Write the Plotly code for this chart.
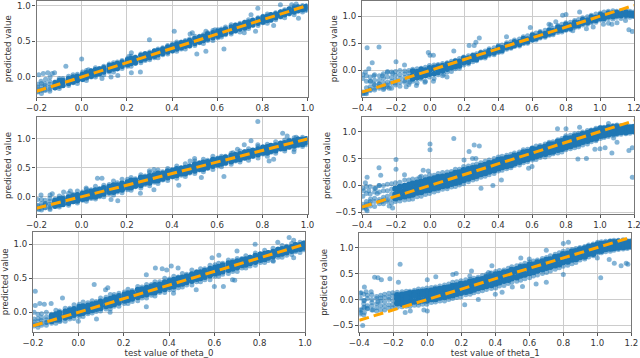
import plotly.graph_objects as go

L_A = [-0.195,-0.162,-0.118,-0.083,-0.038,0.004,0.042,0.079,0.122,0.158,0.203,0.238,0.281,0.322,0.359,0.402,0.441,0.478,0.522,0.558,0.603,0.637,0.681,0.722,0.758,0.803,0.838,0.881,0.919,0.958,0.995]
L_B = [-0.178,-0.141,-0.099,-0.058,-0.019,0.021,0.061,0.098,0.141,0.179,0.219,0.262,0.301,0.338,0.381,0.421,0.459,0.501,0.539,0.581,0.619,0.662,0.701,0.739,0.781,0.822,0.859,0.899,0.941,0.978]
R_A = [-0.395,-0.352,-0.298,-0.251,-0.203,-0.149,-0.102,-0.052,-0.003,0.048,0.101,0.149,0.198,0.252,0.299,0.348,0.402,0.451,0.497,0.549,0.602,0.648,0.701,0.752,0.799,0.851,0.898,0.949,1.002,1.049,1.098,1.152,1.197]
R_B = [-0.374,-0.326,-0.274,-0.226,-0.177,-0.124,-0.076,-0.027,0.024,0.074,0.126,0.173,0.226,0.274,0.324,0.377,0.424,0.476,0.526,0.574,0.624,0.677,0.724,0.776,0.826,0.874,0.926,0.976,1.024,1.076,1.124,1.176]

# panel 1
p1_a_hi = [-0.10,-0.09,-0.07,-0.02,0.03,0.07,0.09,0.12,0.18,0.21,0.26,0.28,0.33,0.37,0.41,0.46,0.49,0.53,0.57,0.62,0.66,0.70,0.73,0.77,0.80,0.85,0.87,0.91,0.95,0.98,0.99]
p1_a_mid = [-0.17,-0.15,-0.11,-0.07,-0.03,0.01,0.05,0.08,0.12,0.16,0.20,0.24,0.28,0.33,0.36,0.40,0.44,0.48,0.52,0.56,0.60,0.64,0.68,0.72,0.76,0.80,0.83,0.87,0.91,0.94,0.97]
p1_a_lo = [-0.21,-0.19,-0.15,-0.12,-0.08,-0.04,0.00,0.03,0.07,0.11,0.15,0.19,0.23,0.27,0.31,0.36,0.39,0.43,0.48,0.51,0.55,0.59,0.64,0.67,0.72,0.76,0.79,0.84,0.88,0.92,0.93]
p1_b_hi = [-0.13,-0.1,-0.05,-0.02,0.01,0.06,0.1,0.13,0.17,0.21,0.26,0.3,0.33,0.37,0.42,0.46,0.49,0.54,0.57,0.62,0.65,0.7,0.73,0.77,0.81,0.85,0.88,0.92,0.96,0.98]
p1_b_lo = [-0.19,-0.17,-0.13,-0.09,-0.05,-0.01,0.03,0.07,0.11,0.15,0.19,0.23,0.27,0.31,0.35,0.39,0.43,0.47,0.51,0.55,0.59,0.63,0.67,0.71,0.75,0.79,0.83,0.87,0.91,0.94]
p1_d_mid = [-0.17,-0.14,-0.1,-0.06,-0.02,0.02,0.06,0.1,0.14,0.18,0.22,0.26,0.3,0.34,0.38,0.42,0.46,0.5,0.54,0.58,0.62,0.66,0.7,0.74,0.78,0.82,0.86,0.89,0.93,0.96]
p1_e_hi = [-0.14,-0.12,-0.08,-0.05,0.0,0.04,0.08,0.11,0.16,0.19,0.24,0.27,0.32,0.36,0.39,0.44,0.48,0.51,0.56,0.6,0.64,0.67,0.72,0.76,0.79,0.84,0.87,0.91,0.95,0.98,0.99]
p1_e_lo = [-0.2,-0.18,-0.15,-0.12,-0.07,-0.03,0.01,0.05,0.09,0.12,0.17,0.2,0.25,0.29,0.33,0.37,0.41,0.44,0.49,0.53,0.57,0.61,0.65,0.69,0.73,0.77,0.8,0.85,0.89,0.93,0.95]
p1_c_hi = [-0.09,-0.06,-0.02,0.01,0.04,0.09,0.13,0.15,0.2,0.23,0.29,0.32,0.35,0.39,0.44,0.49,0.51,0.57,0.59,0.65,0.67,0.73,0.75,0.8,0.83,0.88,0.9,0.94,0.99,1.0]
p1_c_lo = [-0.23,-0.2,-0.16,-0.12,-0.09,-0.05,0.0,0.03,0.07,0.12,0.15,0.2,0.24,0.27,0.32,0.36,0.39,0.44,0.47,0.51,0.56,0.6,0.63,0.68,0.72,0.75,0.8,0.83,0.87,0.91]
p1_out_x = [-0.19,-0.17,-0.15,-0.13,-0.12,-0.18,-0.16,-0.14,-0.07,0.0,0.03,0.21,0.22,0.3,0.41,0.48,0.49,0.63,0.55,0.59,0.75,0.78,0.88,0.93,0.95,0.96,0.26,0.22,0.16,0.13,0.09,0.77,0.85,0.72,0.51,0.55]
p1_out_y = [0.03,0.05,0.06,0.05,0.06,-0.06,-0.03,0.0,0.15,0.25,0.1,0.29,0.34,0.52,0.64,0.6,0.62,0.39,0.64,0.66,0.87,0.96,1.01,1.01,1.02,0.82,0.07,0.06,0.02,0.0,-0.02,0.64,0.72,0.62,0.32,0.36]

# panel 2
p2_a_hi = [-0.08,-0.12,-0.1,-0.04,-0.02,-0.01,0.02,0.04,0.09,0.11,0.14,0.19,0.25,0.29,0.34,0.40,0.46,0.51,0.56,0.62,0.67,0.72,0.76,0.83,0.88,0.92,0.97,1.02,1.06,1.09,1.09,1.12,1.08]
p2_a_mid = [-0.4,-0.3,-0.25,-0.22,-0.17,-0.13,-0.09,-0.05,0.0,0.03,0.08,0.13,0.19,0.24,0.28,0.34,0.40,0.45,0.49,0.55,0.61,0.65,0.71,0.76,0.80,0.86,0.90,0.95,1.0,1.03,1.05,1.05,1.03]
p2_a_lo = [-0.43,-0.37,-0.33,-0.3,-0.27,-0.22,-0.2,-0.16,-0.12,-0.08,-0.03,0.03,0.1,0.16,0.23,0.28,0.33,0.39,0.44,0.49,0.55,0.6,0.65,0.7,0.74,0.79,0.84,0.88,0.93,0.96,0.98,0.99,1.0]
p2_b_hi = [-0.2,-0.18,-0.15,-0.13,-0.08,-0.05,-0.02,0.01,0.06,0.09,0.13,0.17,0.23,0.27,0.32,0.37,0.42,0.48,0.53,0.58,0.63,0.68,0.73,0.79,0.84,0.88,0.93,0.98,1.02,1.06,1.07,1.06]
p2_b_lo = [-0.39,-0.33,-0.29,-0.24,-0.22,-0.17,-0.14,-0.1,-0.06,-0.01,0.05,0.08,0.15,0.2,0.26,0.32,0.37,0.43,0.48,0.53,0.59,0.64,0.69,0.74,0.78,0.83,0.88,0.92,0.96,0.99,1.01,1.02]
p2_d_mid = [-0.32,-0.27,-0.23,-0.2,-0.15,-0.11,-0.08,-0.04,0.02,0.05,0.1,0.15,0.21,0.25,0.3,0.35,0.41,0.46,0.51,0.56,0.62,0.66,0.72,0.77,0.81,0.86,0.91,0.95,1.0,1.03,1.04,1.04]
p2_e_hi = [-0.15,-0.2,-0.18,-0.12,-0.09,-0.06,-0.01,0.02,0.05,0.08,0.12,0.17,0.23,0.27,0.32,0.37,0.43,0.48,0.53,0.59,0.65,0.69,0.74,0.8,0.85,0.89,0.94,0.99,1.03,1.06,1.07,1.08,1.05]
p2_e_lo = [-0.42,-0.35,-0.3,-0.27,-0.23,-0.19,-0.16,-0.12,-0.07,-0.04,0.02,0.07,0.14,0.2,0.25,0.31,0.36,0.42,0.46,0.52,0.57,0.62,0.67,0.73,0.76,0.82,0.87,0.91,0.96,0.99,1.01,1.02,1.01]
p2_c_hi = [-0.1,-0.08,-0.06,-0.03,0.0,0.0,0.03,0.06,0.1,0.13,0.17,0.22,0.27,0.31,0.36,0.42,0.47,0.53,0.58,0.64,0.69,0.74,0.78,0.85,0.89,0.94,0.99,1.04,1.08,1.1,1.1,1.09]
p2_c_lo = [-0.43,-0.36,-0.35,-0.33,-0.29,-0.26,-0.23,-0.2,-0.15,-0.1,-0.02,0.04,0.12,0.18,0.23,0.29,0.34,0.41,0.45,0.5,0.56,0.61,0.66,0.71,0.75,0.8,0.85,0.89,0.93,0.95,0.96,0.98]
p2_out_x = [-0.37,-0.3,-0.34,-0.36,-0.2,-0.15,-0.01,0.0,0.02,0.14,0.23,0.26,0.27,0.29,0.45,0.59,0.7,0.71,0.74,0.88,0.78,0.8,1.05,1.07,1.1,1.15,1.17,1.19,0.92,0.96,1.02,0.84,-0.38,-0.35,-0.33,-0.3,-0.27,-0.24,-0.38,-0.33,-0.28,-0.25,-0.22,-0.14,-0.12,-0.08,-0.03,0.1,0.08,0.02]
p2_out_y = [0.42,0.43,0.14,0.03,0.16,0.1,0.33,0.28,0.28,0.36,0.46,0.46,0.52,0.6,0.62,0.79,0.85,0.84,0.9,1.08,1.02,1.03,0.87,0.85,0.88,0.92,0.75,0.72,0.77,0.8,0.85,0.73,-0.42,-0.2,-0.1,-0.25,-0.33,-0.33,-0.03,-0.25,-0.1,-0.02,-0.05,-0.3,-0.22,-0.28,-0.22,-0.12,-0.07,-0.2]

# panel 3
p3_a_hi = [-0.05,-0.06,-0.04,0.0,0.04,0.08,0.12,0.14,0.21,0.24,0.3,0.31,0.36,0.4,0.43,0.47,0.5,0.54,0.59,0.63,0.67,0.7,0.74,0.78,0.8,0.86,0.88,0.92,0.98,1.0,1.0]
p3_a_mid = [-0.16,-0.14,-0.1,-0.07,-0.03,0.01,0.05,0.09,0.13,0.17,0.21,0.25,0.29,0.33,0.37,0.41,0.44,0.48,0.53,0.56,0.61,0.64,0.68,0.72,0.76,0.8,0.83,0.88,0.91,0.94,0.96]
p3_a_lo = [-0.2,-0.19,-0.15,-0.13,-0.09,-0.06,-0.03,0.0,0.05,0.08,0.12,0.17,0.21,0.25,0.29,0.34,0.37,0.41,0.46,0.49,0.53,0.57,0.62,0.66,0.7,0.74,0.77,0.82,0.85,0.88,0.9]
p3_b_hi = [-0.12,-0.08,-0.04,-0.01,0.03,0.07,0.11,0.15,0.2,0.23,0.28,0.33,0.36,0.4,0.44,0.48,0.5,0.56,0.59,0.64,0.66,0.71,0.74,0.78,0.82,0.86,0.89,0.93,0.97,0.99]
p3_b_lo = [-0.2,-0.17,-0.14,-0.11,-0.07,-0.03,0.0,0.05,0.08,0.12,0.16,0.2,0.24,0.28,0.33,0.37,0.4,0.45,0.48,0.53,0.57,0.61,0.65,0.69,0.73,0.76,0.8,0.84,0.88,0.91]
p3_d_mid = [-0.16,-0.13,-0.09,-0.05,-0.02,0.02,0.06,0.1,0.14,0.18,0.22,0.26,0.3,0.34,0.38,0.42,0.46,0.5,0.54,0.58,0.62,0.66,0.69,0.73,0.77,0.81,0.85,0.89,0.92,0.95]
p3_e_hi = [-0.15,-0.12,-0.07,-0.04,0.01,0.05,0.09,0.12,0.17,0.2,0.25,0.28,0.33,0.37,0.4,0.45,0.49,0.52,0.57,0.6,0.65,0.68,0.72,0.77,0.8,0.85,0.88,0.92,0.96,0.99,1.0]
p3_e_lo = [-0.2,-0.19,-0.16,-0.13,-0.08,-0.04,0.0,0.03,0.08,0.11,0.16,0.19,0.24,0.28,0.31,0.36,0.4,0.43,0.48,0.51,0.56,0.59,0.64,0.68,0.71,0.76,0.79,0.84,0.87,0.91,0.94]
p3_c_hi = [-0.05,-0.03,0.01,0.06,0.1,0.13,0.18,0.2,0.27,0.3,0.33,0.38,0.42,0.46,0.49,0.53,0.57,0.62,0.65,0.7,0.7,0.75,0.79,0.83,0.87,0.91,0.95,0.98,1.02,1.03]
p3_c_lo = [-0.23,-0.2,-0.18,-0.15,-0.11,-0.08,-0.04,0.0,0.03,0.07,0.11,0.15,0.19,0.23,0.28,0.32,0.35,0.4,0.43,0.47,0.52,0.56,0.6,0.63,0.67,0.7,0.75,0.79,0.82,0.87]
p3_out_x = [0.78,0.75,0.72,0.78,0.89,0.91,0.95,0.63,0.07,0.09,0.3,0.32,0.48,0.5,0.67,0.69,0.02,0.03,0.32,0.26,0.13,0.16,-0.18,-0.14,-0.13,-0.16,-0.14,-0.19,0.43,0.53,0.83,0.94,-0.08,-0.05,0.85]
p3_out_y = [1.3,0.97,0.9,0.9,1.1,1.05,1.03,0.35,0.32,0.32,0.45,0.47,0.62,0.66,0.76,0.82,0.15,0.1,0.12,0.06,-0.05,-0.07,0.03,0.03,0.05,-0.12,-0.22,-0.22,0.2,0.33,0.62,0.78,0.08,0.1,0.65]

# panel 4
p4_a_hi = [-0.05,-0.02,0.0,0.02,0.05,0.1,0.12,0.17,0.2,0.22,0.25,0.3,0.35,0.38,0.42,0.47,0.53,0.56,0.6,0.66,0.7,0.74,0.8,0.85,0.92,0.96,0.99,1.03,1.08,1.1,1.11,1.12,1.1]
p4_a_mid = [-0.35,-0.3,-0.26,-0.2,-0.17,-0.11,-0.07,-0.02,0.02,0.06,0.1,0.15,0.2,0.25,0.3,0.35,0.41,0.45,0.5,0.55,0.61,0.65,0.7,0.75,0.8,0.85,0.9,0.94,1.0,1.02,1.04,1.05,1.05]
p4_a_lo = [-0.42,-0.38,-0.34,-0.3,-0.3,-0.27,-0.25,-0.2,-0.15,-0.1,-0.06,-0.02,0.03,0.1,0.15,0.2,0.27,0.31,0.37,0.42,0.47,0.52,0.56,0.6,0.66,0.7,0.75,0.81,0.87,0.91,0.94,0.96,0.99]
p4_b_hi = [-0.15,-0.12,-0.1,-0.07,-0.03,0.01,0.05,0.09,0.13,0.16,0.2,0.24,0.3,0.33,0.38,0.43,0.48,0.52,0.57,0.62,0.66,0.72,0.76,0.82,0.87,0.92,0.97,1.02,1.05,1.08,1.08,1.07]
p4_b_lo = [-0.35,-0.3,-0.27,-0.25,-0.22,-0.18,-0.13,-0.09,-0.05,-0.01,0.03,0.07,0.13,0.18,0.23,0.28,0.34,0.38,0.44,0.49,0.54,0.59,0.63,0.68,0.73,0.78,0.83,0.87,0.93,0.97,0.99,1.01]
p4_d_mid = [-0.3,-0.24,-0.22,-0.16,-0.12,-0.08,-0.04,0.0,0.04,0.08,0.12,0.17,0.22,0.27,0.32,0.37,0.42,0.47,0.52,0.57,0.62,0.67,0.71,0.76,0.81,0.86,0.91,0.96,1.0,1.03,1.05,1.05]
p4_e_hi = [-0.2,-0.16,-0.12,-0.1,-0.06,-0.01,0.03,0.07,0.11,0.15,0.18,0.23,0.28,0.32,0.36,0.41,0.47,0.51,0.55,0.61,0.67,0.7,0.76,0.81,0.87,0.91,0.95,1.0,1.05,1.07,1.08,1.09,1.08]
p4_e_lo = [-0.4,-0.34,-0.3,-0.27,-0.24,-0.2,-0.17,-0.12,-0.08,-0.04,0.0,0.05,0.1,0.16,0.21,0.26,0.32,0.36,0.41,0.47,0.52,0.57,0.62,0.66,0.71,0.76,0.81,0.86,0.92,0.95,0.98,0.99,1.01]
p4_c_hi = [-0.02,-0.05,0.0,0.03,0.06,0.1,0.12,0.16,0.19,0.24,0.26,0.3,0.36,0.4,0.45,0.5,0.54,0.58,0.62,0.67,0.73,0.77,0.81,0.87,0.93,0.97,1.02,1.06,1.08,1.11,1.11,1.1]
p4_c_lo = [-0.44,-0.39,-0.34,-0.33,-0.29,-0.26,-0.21,-0.17,-0.12,-0.07,-0.03,0.01,0.07,0.12,0.17,0.22,0.28,0.33,0.38,0.44,0.48,0.53,0.59,0.62,0.68,0.72,0.77,0.83,0.89,0.93,0.95,0.97]
p4_out_x = [0.14,0.0,0.0,-0.2,-0.2,-0.3,-0.29,-0.04,-0.01,0.23,0.26,0.29,0.25,0.27,0.2,-0.15,-0.06,0.87,0.92,1.0,1.03,1.07,0.97,1.17,1.19,1.19,0.58,0.6,-0.39,-0.37,-0.36,-0.38,-0.37,-0.35,-0.32,-0.31,-0.28,-0.22,-0.24,-0.38,-0.3,0.75,0.8,0.88,1.05,1.1,0.3,0.37,0.42,1.08,1.1]
p4_out_y = [0.87,0.77,0.66,0.48,0.3,0.33,0.19,0.28,0.27,0.63,0.75,0.73,0.5,0.5,0.47,0.2,0.15,0.49,0.5,0.68,0.7,0.6,0.67,0.65,0.7,0.15,0.32,0.35,-0.1,0.15,-0.1,-0.4,-0.47,-0.25,-0.05,-0.15,-0.3,-0.42,-0.38,0.05,0.0,1.05,1.05,1.08,1.15,1.12,-0.05,0.0,0.1,0.88,0.8]

# panel 5
p5_a_hi = [0.0,-0.02,-0.03,0.02,0.06,0.12,0.14,0.16,0.22,0.26,0.3,0.32,0.37,0.41,0.45,0.49,0.52,0.56,0.6,0.64,0.7,0.72,0.76,0.79,0.81,0.86,0.88,0.93,0.97,1.0,1.02]
p5_a_mid = [-0.14,-0.12,-0.09,-0.05,-0.01,0.04,0.07,0.1,0.14,0.18,0.22,0.26,0.3,0.34,0.37,0.42,0.46,0.5,0.54,0.58,0.62,0.65,0.7,0.74,0.77,0.81,0.84,0.88,0.92,0.95,0.98]
p5_a_lo = [-0.2,-0.19,-0.16,-0.13,-0.1,-0.06,-0.02,0.01,0.05,0.09,0.13,0.16,0.21,0.25,0.29,0.33,0.36,0.4,0.45,0.48,0.53,0.56,0.6,0.65,0.68,0.73,0.76,0.81,0.84,0.89,0.92]
p5_b_hi = [-0.09,-0.07,-0.03,0.01,0.05,0.09,0.12,0.16,0.2,0.24,0.28,0.33,0.36,0.4,0.44,0.48,0.51,0.56,0.59,0.64,0.67,0.72,0.75,0.78,0.83,0.86,0.89,0.93,0.96,0.99]
p5_b_lo = [-0.18,-0.15,-0.11,-0.08,-0.04,-0.01,0.03,0.06,0.1,0.14,0.18,0.22,0.26,0.29,0.34,0.38,0.42,0.46,0.5,0.54,0.58,0.62,0.66,0.7,0.74,0.78,0.82,0.86,0.9,0.93]
p5_d_mid = [-0.13,-0.11,-0.07,-0.04,0.0,0.04,0.07,0.11,0.15,0.19,0.23,0.27,0.31,0.34,0.39,0.43,0.46,0.51,0.55,0.59,0.63,0.67,0.71,0.74,0.79,0.82,0.86,0.9,0.93,0.96]
p5_e_hi = [-0.1,-0.08,-0.05,-0.01,0.03,0.08,0.1,0.13,0.18,0.22,0.26,0.29,0.34,0.38,0.41,0.46,0.5,0.53,0.58,0.61,0.66,0.69,0.73,0.77,0.8,0.85,0.87,0.92,0.95,0.99,1.01]
p5_e_lo = [-0.18,-0.16,-0.13,-0.1,-0.06,-0.02,0.01,0.05,0.09,0.12,0.17,0.2,0.25,0.29,0.32,0.37,0.41,0.44,0.49,0.52,0.57,0.6,0.64,0.69,0.72,0.77,0.8,0.85,0.88,0.92,0.95]
p5_c_hi = [-0.03,0.0,0.03,0.06,0.11,0.15,0.17,0.21,0.26,0.28,0.34,0.38,0.41,0.45,0.5,0.53,0.57,0.62,0.64,0.69,0.72,0.77,0.79,0.83,0.87,0.91,0.94,0.98,1.01,1.03]
p5_c_lo = [-0.22,-0.19,-0.16,-0.13,-0.09,-0.06,-0.01,0.02,0.05,0.09,0.13,0.17,0.21,0.24,0.29,0.33,0.37,0.4,0.45,0.48,0.53,0.57,0.6,0.65,0.69,0.73,0.76,0.81,0.85,0.88]
p5_out_x = [-0.19,-0.19,-0.17,-0.15,-0.12,-0.07,0.07,0.12,0.13,0.3,0.34,0.37,0.39,0.41,0.44,0.6,0.64,0.68,0.62,0.59,0.7,0.78,0.88,0.93,0.95,0.86,0.95,0.69,0.52,0.42,0.3,0.14,0.08,0.0,-0.14,-0.08]
p5_out_y = [0.31,0.1,0.13,0.12,0.13,0.21,0.41,0.33,0.36,0.55,0.65,0.64,0.62,0.68,0.65,0.38,0.38,0.48,0.84,0.8,0.9,1.0,1.03,1.1,1.06,0.75,0.8,0.47,0.33,0.28,0.08,0.0,-0.1,-0.13,-0.15,-0.13]

# panel 6
p6_a_hi = [0.12,0.08,0.06,0.1,0.13,0.15,0.16,0.2,0.22,0.24,0.28,0.33,0.36,0.39,0.43,0.48,0.54,0.57,0.63,0.67,0.72,0.76,0.81,0.87,0.93,0.96,1.0,1.05,1.1,1.12,1.14,1.15,1.13]
p6_a_mid = [-0.2,-0.12,-0.08,-0.05,-0.02,0.01,0.03,0.05,0.07,0.1,0.14,0.17,0.22,0.26,0.3,0.35,0.4,0.45,0.5,0.55,0.6,0.65,0.7,0.75,0.8,0.85,0.9,0.95,1.0,1.03,1.05,1.07,1.07]
p6_a_lo = [-0.28,-0.18,-0.22,-0.2,-0.16,-0.14,-0.13,-0.11,-0.09,-0.05,-0.03,0.02,0.05,0.1,0.15,0.19,0.22,0.27,0.33,0.37,0.42,0.47,0.52,0.58,0.64,0.69,0.76,0.82,0.89,0.92,0.95,0.97,1.0]
p6_b_hi = [-0.02,0.0,0.03,0.05,0.08,0.1,0.13,0.15,0.17,0.2,0.23,0.27,0.31,0.35,0.39,0.44,0.49,0.53,0.58,0.63,0.67,0.73,0.77,0.83,0.88,0.93,0.98,1.03,1.07,1.1,1.11,1.1]
p6_b_lo = [-0.15,-0.12,-0.12,-0.1,-0.07,-0.05,-0.04,-0.02,0.01,0.04,0.07,0.11,0.15,0.19,0.24,0.28,0.33,0.38,0.43,0.48,0.53,0.58,0.63,0.68,0.73,0.78,0.83,0.88,0.94,0.98,1.0,1.02]
p6_d_mid = [-0.08,-0.06,-0.03,0.0,0.02,0.04,0.07,0.09,0.11,0.14,0.17,0.21,0.25,0.29,0.34,0.39,0.44,0.49,0.54,0.59,0.64,0.68,0.73,0.79,0.84,0.89,0.94,0.98,1.03,1.05,1.06,1.06]
p6_e_hi = [0.03,0.02,0.02,0.04,0.07,0.09,0.12,0.14,0.16,0.19,0.22,0.26,0.3,0.34,0.38,0.43,0.48,0.52,0.57,0.62,0.67,0.71,0.76,0.82,0.87,0.92,0.96,1.01,1.06,1.08,1.1,1.11,1.1]
p6_e_lo = [-0.25,-0.17,-0.16,-0.13,-0.1,-0.08,-0.06,-0.04,-0.02,0.01,0.05,0.08,0.13,0.17,0.22,0.26,0.31,0.36,0.41,0.46,0.51,0.56,0.61,0.66,0.72,0.77,0.82,0.88,0.94,0.97,0.99,1.01,1.03]
p6_c_hi = [0.1,0.09,0.08,0.12,0.14,0.16,0.18,0.2,0.23,0.26,0.3,0.34,0.38,0.41,0.46,0.51,0.56,0.6,0.65,0.7,0.74,0.79,0.84,0.9,0.95,0.98,1.02,1.07,1.11,1.13,1.14,1.13]
p6_c_lo = [-0.3,-0.2,-0.2,-0.17,-0.15,-0.13,-0.11,-0.09,-0.06,-0.03,0.0,0.04,0.09,0.13,0.17,0.21,0.26,0.31,0.35,0.4,0.45,0.5,0.55,0.61,0.66,0.71,0.78,0.84,0.9,0.93,0.96,0.98]
p6_out_x = [-0.16,-0.31,-0.29,-0.22,-0.27,-0.17,-0.37,-0.33,-0.36,-0.39,-0.37,-0.37,-0.39,-0.38,-0.37,-0.29,-0.32,-0.1,-0.13,-0.02,0.0,0.05,0.0,0.15,0.17,0.26,0.36,0.25,0.38,0.37,0.55,0.6,0.7,0.8,0.83,0.7,0.4,0.44,0.5,0.56,1.02,1.0,1.07,1.1,1.14,1.18,1.17,0.8,0.64,0.3,0.22]
p6_out_y = [0.68,0.43,0.42,0.4,0.38,0.33,0.24,0.15,0.15,0.13,-0.02,-0.16,-0.2,-0.5,-0.25,-0.05,-0.2,-0.22,-0.25,-0.2,-0.22,0.44,0.38,0.48,0.5,0.55,0.52,0.45,0.65,0.5,0.8,0.78,0.95,1.08,1.1,0.33,0.1,0.14,0.24,0.25,0.42,0.8,0.77,0.7,0.65,0.68,0.7,0.48,0.3,0.0,-0.1]

ref_left = [-0.2, 1.0]
ref_right = [-0.4, 1.2]
y_ticks_left = [0.0, 0.5, 1.0]
y_ticks_right = [-0.5, 0.0, 0.5, 1.0]
x_ticks_left = [-0.2, 0.0, 0.2, 0.4, 0.6, 0.8, 1.0]
x_ticks_right = [-0.4, -0.2, 0.0, 0.2, 0.4, 0.6, 0.8, 1.0, 1.2]

W, H = 640, 358
BLUE = "#1f77b4"
ORANGE = "#ffa500"
FS = 8.6
TXT = "#333333"

panels = [
    dict(box=(36.5, 307.5, 0.5, 97), yr=(-0.28, 1.07), side="L", yt=y_ticks_left, title=None, core=5.5, sparse=-0.12,
         fuzz=(p1_a_hi, p1_a_lo, p1_c_hi, p1_c_lo), core_a=(p1_a_mid, p1_e_hi, p1_e_lo), core_b=(p1_b_hi, p1_b_lo, p1_d_mid), o=(p1_out_x, p1_out_y)),
    dict(box=(362, 634, 0.5, 97), yr=(-0.49, 1.29), side="R", yt=y_ticks_left, title=None, core=5.5, sparse=-0.12,
         fuzz=(p2_a_hi, p2_a_lo, p2_c_hi, p2_c_lo), core_a=(p2_a_mid, p2_e_hi, p2_e_lo), core_b=(p2_b_hi, p2_b_lo, p2_d_mid), o=(p2_out_x, p2_out_y)),
    dict(box=(36.5, 307.5, 117, 214), yr=(-0.3, 1.38), side="L", yt=y_ticks_left, title=None, core=6, sparse=-0.12,
         fuzz=(p3_a_hi, p3_a_lo, p3_c_hi, p3_c_lo), core_a=(p3_a_mid, p3_e_hi, p3_e_lo), core_b=(p3_b_hi, p3_b_lo, p3_d_mid), o=(p3_out_x, p3_out_y)),
    dict(box=(362, 634, 117, 214), yr=(-0.53, 1.27), side="R", yt=y_ticks_right, title=None, core=6.5, sparse=-0.22,
         fuzz=(p4_a_hi, p4_a_lo, p4_c_hi, p4_c_lo), core_a=(p4_a_mid, p4_e_hi, p4_e_lo), core_b=(p4_b_hi, p4_b_lo, p4_d_mid), o=(p4_out_x, p4_out_y)),
    dict(box=(33, 305, 232, 331.7), yr=(-0.285, 1.18), side="L", yt=y_ticks_left, title="test value of theta_0", core=6, sparse=-0.12,
         fuzz=(p5_a_hi, p5_a_lo, p5_c_hi, p5_c_lo), core_a=(p5_a_mid, p5_e_hi, p5_e_lo), core_b=(p5_b_hi, p5_b_lo, p5_d_mid), o=(p5_out_x, p5_out_y)),
    dict(box=(359.3, 631.3, 233, 331.7), yr=(-0.62, 1.28), side="R", yt=y_ticks_right, title="test value of theta_1", core=6.5, sparse=-0.2,
         fuzz=(p6_a_hi, p6_a_lo, p6_c_hi, p6_c_lo), core_a=(p6_a_mid, p6_e_hi, p6_e_lo), core_b=(p6_b_hi, p6_b_lo, p6_d_mid), o=(p6_out_x, p6_out_y)),
]

def split(xs, ys, cut):
    dense = [(x, y) for x, y in zip(xs, ys) if x >= cut]
    light = [(x, y) for x, y in zip(xs, ys) if x < cut]
    return [d[0] for d in dense], [d[1] for d in dense], [l[0] for l in light], [l[1] for l in light]

fig = go.Figure()
layout = {}
for i, p in enumerate(panels, start=1):
    xa, xb = (L_A, L_B) if p["side"] == "L" else (R_A, R_B)
    ref = ref_left if p["side"] == "L" else ref_right
    xt = x_ticks_left if p["side"] == "L" else x_ticks_right
    l, r, t, b = p["box"]
    sx = "" if i == 1 else str(i)
    common = dict(xaxis=f"x{sx}", yaxis=f"y{sx}", showlegend=False, hoverinfo="skip")
    m_outer = dict(color=BLUE, size=5, opacity=0.55)
    m_inner = dict(color=BLUE, size=p["core"], opacity=1)
    ox, oy = p["o"]
    fa1, fa2, fb1, fb2 = p["fuzz"]
    fig.add_trace(go.Scatter(x=ox, y=oy, mode="markers", marker=m_outer, **common))
    for xs, ys in ((xa, fa1), (xa, fa2), (xb, fb1), (xb, fb2)):
        fig.add_trace(go.Scatter(x=xs, y=ys, mode="markers", marker=m_outer, **common))
    rows = [(xa, ys) for ys in p["core_a"]] + [(xb, ys) for ys in p["core_b"]]
    for xs, ys in rows:
        dx, dy, lx, ly = split(xs, ys, p["sparse"])
        fig.add_trace(go.Scatter(x=lx, y=ly, mode="markers", marker=m_outer, **common))
        fig.add_trace(go.Scatter(x=dx, y=dy, mode="markers", marker=m_inner, **common))
    fig.add_trace(go.Scatter(x=ref, y=ref, mode="lines",
                             line=dict(color=ORANGE, width=3, dash="10px,5px"), **common))
    axis_common = dict(showgrid=True, gridcolor="#cccccc", gridwidth=1.2, zeroline=False,
                       showline=True, mirror=True, linecolor="#777777", linewidth=1.3,
                       ticks="outside", ticklen=3, tickcolor="#555555", tickwidth=1,
                       tickfont=dict(family="DejaVu Sans", size=FS, color=TXT), automargin=False)
    xax = dict(domain=[l / W, r / W], range=ref, tickvals=xt, tickformat=".1f", anchor=f"y{sx}",
               ticklabeloverflow="allow", **axis_common)
    if p["title"]:
        xax["title"] = dict(text=p["title"], font=dict(family="DejaVu Sans", size=FS, color=TXT), standoff=3)
    yax = dict(domain=[1 - b / H, 1 - t / H], range=list(p["yr"]), tickvals=p["yt"], tickformat=".1f",
               anchor=f"x{sx}", title=dict(text="predicted value", font=dict(family="DejaVu Sans", size=FS, color=TXT), standoff=3),
               **axis_common)
    layout[f"xaxis{sx}"] = xax
    layout[f"yaxis{sx}"] = yax

fig.update_layout(width=W, height=H, autosize=False, margin=dict(l=0, r=0, t=0, b=0),
                  paper_bgcolor="white", plot_bgcolor="white", **layout)
fig.write_html("out.html", config=dict(displayModeBar=False),
               post_script="document.body.style.margin='0';document.body.style.overflow='hidden';")
